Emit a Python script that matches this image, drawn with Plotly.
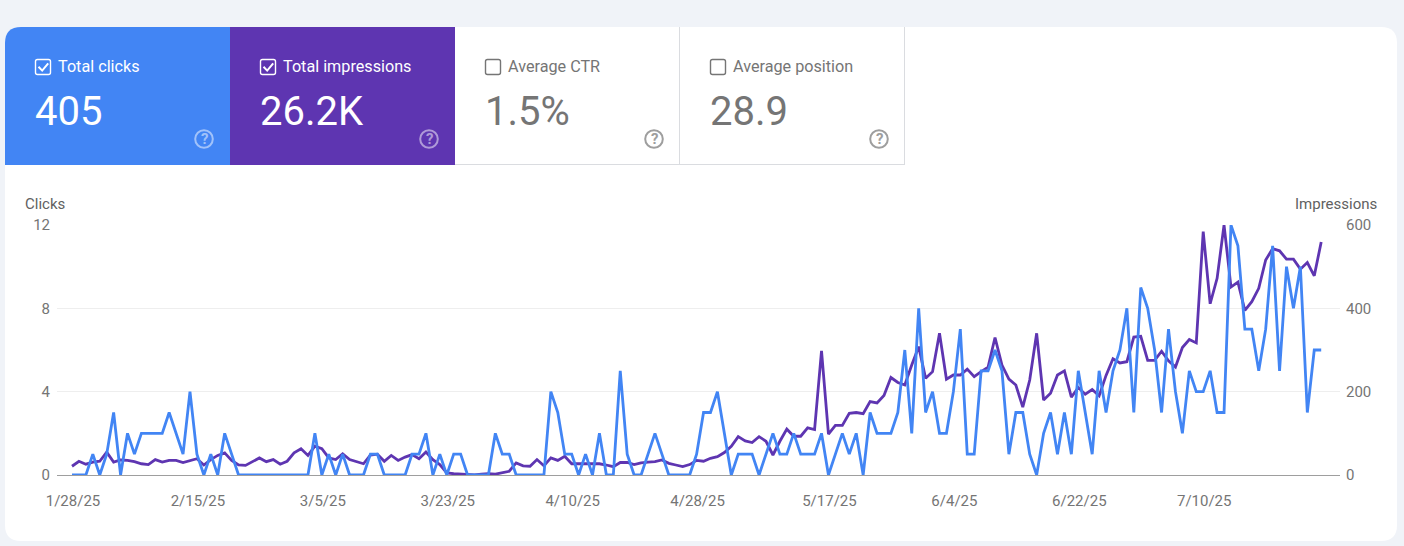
import pandas as pd
import plotly.graph_objects as go

W, H = 1404, 546

# Daily search performance, 1/28/25 to 7/27/25
dates = pd.date_range("2025-01-28", periods=181, freq="D")

clicks = [
    0, 0, 0, 1, 0, 1, 3, 0, 2, 1, 2, 2, 2, 2, 3, 2, 1, 4, 1, 0,
    1, 0, 2, 1, 0, 0, 0, 0, 0, 0, 0, 0, 0, 0, 0, 2, 0, 1, 0, 1,
    0, 0, 0, 1, 1, 0, 0, 0, 0, 1, 1, 2, 0, 1, 0, 1, 1, 0, 0, 0,
    0, 2, 1, 1, 0, 0, 0, 0, 0, 4, 3, 1, 1, 0, 1, 0, 2, 0, 0, 5,
    1, 0, 0, 1, 2, 1, 0, 0, 0, 0, 1, 3, 3, 4, 2, 0, 1, 1, 1, 0,
    1, 2, 1, 1, 2, 1, 1, 1, 2, 0, 1, 2, 1, 2, 0, 3, 2, 2, 2, 3,
    6, 2, 8, 3, 4, 2, 2, 4, 7, 1, 1, 5, 5, 6, 5, 1, 3, 3, 1, 0,
    2, 3, 1, 3, 1, 5, 3, 1, 5, 3, 5, 6, 8, 3, 9, 8, 6, 3, 7, 4,
    2, 5, 4, 4, 5, 3, 3, 12, 11, 7, 7, 5, 7, 11, 5, 10, 8, 10, 3, 6,
    6,
]

impressions = [
    21, 33, 26, 31, 33, 55, 31, 36, 35, 32, 27, 25, 37, 31, 35, 35, 30, 35, 39, 24,
    37, 47, 53, 35, 24, 23, 31, 41, 32, 37, 26, 33, 53, 63, 47, 69, 63, 41, 37, 51,
    37, 32, 27, 48, 50, 33, 47, 35, 43, 49, 39, 55, 37, 25, 5, 3, 2, 0, 0, 2,
    3, 2, 6, 9, 29, 22, 21, 37, 22, 41, 35, 45, 27, 27, 27, 27, 27, 24, 20, 30,
    30, 25, 29, 31, 32, 36, 28, 24, 20, 25, 35, 33, 40, 44, 54, 69, 92, 82, 78, 92,
    81, 48, 81, 110, 93, 93, 113, 109, 298, 98, 119, 119, 148, 150, 147, 176, 173, 191, 234, 222,
    216, 264, 308, 232, 248, 340, 230, 240, 240, 254, 236, 248, 259, 330, 264, 230, 216, 163, 228, 340,
    180, 196, 240, 250, 187, 210, 194, 205, 190, 239, 279, 269, 272, 331, 333, 275, 275, 297, 274, 259,
    306, 325, 317, 584, 411, 472, 600, 451, 463, 395, 416, 448, 516, 543, 538, 518, 518, 494, 510, 478,
    559,
]

x_tick_dates = ["2025-01-28", "2025-02-15", "2025-03-05", "2025-03-23", "2025-04-10",
                "2025-04-28", "2025-05-17", "2025-06-04", "2025-06-22", "2025-07-10"]
x_tick_labels = ["1/28/25", "2/15/25", "3/5/25", "3/23/25", "4/10/25",
                 "4/28/25", "5/17/25", "6/4/25", "6/22/25", "7/10/25"]
clicks_ticks = [0, 4, 8, 12]
impressions_ticks = [0, 200, 400, 600]

tile_titles = ["Total clicks", "Total impressions", "Average CTR", "Average position"]
tile_values = ["405", "26.2K", "1.5%", "28.9"]

BLUE = "#4285f4"
PURPLE = "#5e35b1"
PAGE = "#f0f3f8"
GREY_TEXT = "#757575"
AXIS_TEXT = "#616161"
FONT = "Roboto"


def px(x):
    return x / W


def py(y):
    return 1 - y / H


def rounded_path(x0, y0, x1, y1, tl=0, tr=0, br=0, bl=0):
    """Rectangle path in pixel terms with individually rounded corners."""
    parts = [f"M {px(x0 + tl)} {py(y0)}", f"L {px(x1 - tr)} {py(y0)}"]
    if tr:
        parts.append(f"Q {px(x1)} {py(y0)} {px(x1)} {py(y0 + tr)}")
    parts.append(f"L {px(x1)} {py(y1 - br)}")
    if br:
        parts.append(f"Q {px(x1)} {py(y1)} {px(x1 - br)} {py(y1)}")
    parts.append(f"L {px(x0 + bl)} {py(y1)}")
    if bl:
        parts.append(f"Q {px(x0)} {py(y1)} {px(x0)} {py(y1 - bl)}")
    parts.append(f"L {px(x0)} {py(y0 + tl)}")
    if tl:
        parts.append(f"Q {px(x0)} {py(y0)} {px(x0 + tl)} {py(y0)}")
    parts.append("Z")
    return " ".join(parts)


def path_shape(path, fill=None, line=None, width=0, opacity=1):
    return dict(type="path", xref="paper", yref="paper", path=path, layer="below",
                fillcolor=fill or "rgba(0,0,0,0)", opacity=opacity,
                line=dict(color=line or "rgba(0,0,0,0)", width=width))


def segment(x0, y0, x1, y1, color, width=1):
    return dict(type="line", xref="paper", yref="paper", layer="below",
                x0=px(x0), y0=py(y0), x1=px(x1), y1=py(y1),
                line=dict(color=color, width=width))


def label(x, y, text, size, color, anchor="left", weight=400):
    return dict(xref="paper", yref="paper", x=px(x), y=py(y), text=text, showarrow=False,
                xanchor=anchor, yanchor="middle", borderpad=0, borderwidth=0,
                font=dict(family=FONT, size=size, color=color, weight=weight))


shapes = [path_shape(rounded_path(5, 27, 1397, 541, tl=16, tr=16, br=16, bl=16), fill="#ffffff")]
annotations = []

# Metric tiles across the top of the card
tile_text_left = [35, 260, 485, 710]
shapes.append(path_shape(rounded_path(5, 27, 230, 165, tl=16), fill=BLUE))
shapes.append(path_shape(rounded_path(230, 27, 455, 165), fill=PURPLE))
shapes.append(segment(455, 164.5, 905, 164.5, "#dadce0"))
shapes.append(segment(679.5, 27, 679.5, 165, "#dadce0"))
shapes.append(segment(904.5, 27, 904.5, 165, "#dadce0"))

for i, left in enumerate(tile_text_left):
    active = i < 2
    ink = "#ffffff" if active else GREY_TEXT
    shapes.append(path_shape(rounded_path(left + 0.5, 59.5, left + 15.5, 74.5, tl=2, tr=2, br=2, bl=2),
                             line="#ffffff" if active else "#757575", width=1.4))
    if active:
        check = (f"M {px(left + 3.5)} {py(66.8)} L {px(left + 7.2)} {py(70.6)} "
                 f"L {px(left + 13.2)} {py(63.4)}")
        shapes.append(path_shape(check, line="#ffffff", width=2))
    annotations.append(label(left + 23, 66, tile_titles[i], 16.2, "#ffffff" if active else GREY_TEXT))
    annotations.append(label(left, 112, tile_values[i], 40, ink))

    # Help icon in the tile's lower right corner
    cx, cy, r = left + 169, 139, 8.8
    help_color = "rgba(255,255,255,0.5)" if active else "#9e9e9e"
    shapes.append(dict(type="circle", xref="paper", yref="paper", layer="below",
                       x0=px(cx - r), x1=px(cx + r), y0=py(cy + r), y1=py(cy - r),
                       line=dict(color=help_color, width=2), fillcolor="rgba(0,0,0,0)"))
    annotations.append(label(cx, cy, "?", 15, help_color, anchor="center", weight=700))

annotations.append(label(25, 203.5, "Clicks", 15, AXIS_TEXT))
annotations.append(label(1377, 203.5, "Impressions", 15, AXIS_TEXT, anchor="right"))

fig = go.Figure()

# Impressions sit on the right axis, clicks on the left axis drawn above them
fig.add_trace(go.Scatter(x=dates, y=impressions, mode="lines", yaxis="y", xaxis="x",
                         line=dict(color=PURPLE, width=2.8), cliponaxis=False,
                         name="Total impressions"))
fig.add_trace(go.Scatter(x=dates, y=clicks, mode="lines", yaxis="y2", xaxis="x",
                         line=dict(color=BLUE, width=2.8), cliponaxis=False,
                         name="Total clicks"))

plot_left, plot_right, plot_top, plot_bottom = 57, 1340, 225, 475
day_px = 6.94
range_start = dates[0] - pd.Timedelta(days=(72 - plot_left) / day_px)
range_end = dates[0] + pd.Timedelta(days=(plot_right - 72) / day_px)

fig.update_layout(
    width=W, height=H, autosize=False,
    margin=dict(l=0, r=0, t=0, b=0, pad=0),
    paper_bgcolor=PAGE, plot_bgcolor="rgba(0,0,0,0)",
    showlegend=False,
    font=dict(family=FONT, size=15, color=GREY_TEXT),
    xaxis=dict(domain=[px(plot_left), px(plot_right)], range=[range_start, range_end],
               type="date", tickmode="array", tickvals=x_tick_dates, ticktext=x_tick_labels,
               automargin=False, ticklabelshift=1,
               showgrid=False, zeroline=False, showline=True, linecolor="#9e9e9e", linewidth=1,
               ticks="outside", ticklen=12, tickcolor="rgba(0,0,0,0)",
               tickfont=dict(family=FONT, size=15, color=GREY_TEXT), anchor="y"),
    yaxis=dict(domain=[py(plot_bottom), py(plot_top)], range=[0, 600], side="right",
               automargin=False,
               tickmode="array", tickvals=impressions_ticks, showgrid=True, gridcolor="#eeeeee",
               gridwidth=1, zeroline=False, showline=False, anchor="x",
               ticks="outside", ticklen=2, tickcolor="rgba(0,0,0,0)",
               tickfont=dict(family=FONT, size=15, color=GREY_TEXT)),
    yaxis2=dict(domain=[py(plot_bottom), py(plot_top)], range=[0, 12], side="left", overlaying="y",
                automargin=False,
                tickmode="array", tickvals=clicks_ticks, showgrid=False, zeroline=False,
                showline=False, anchor="x",
                ticks="outside", ticklen=3, tickcolor="rgba(0,0,0,0)",
                tickfont=dict(family=FONT, size=15, color=GREY_TEXT)),
    shapes=shapes,
    annotations=annotations,
)

fig.write_html("out.html", config={"displayModeBar": False})
